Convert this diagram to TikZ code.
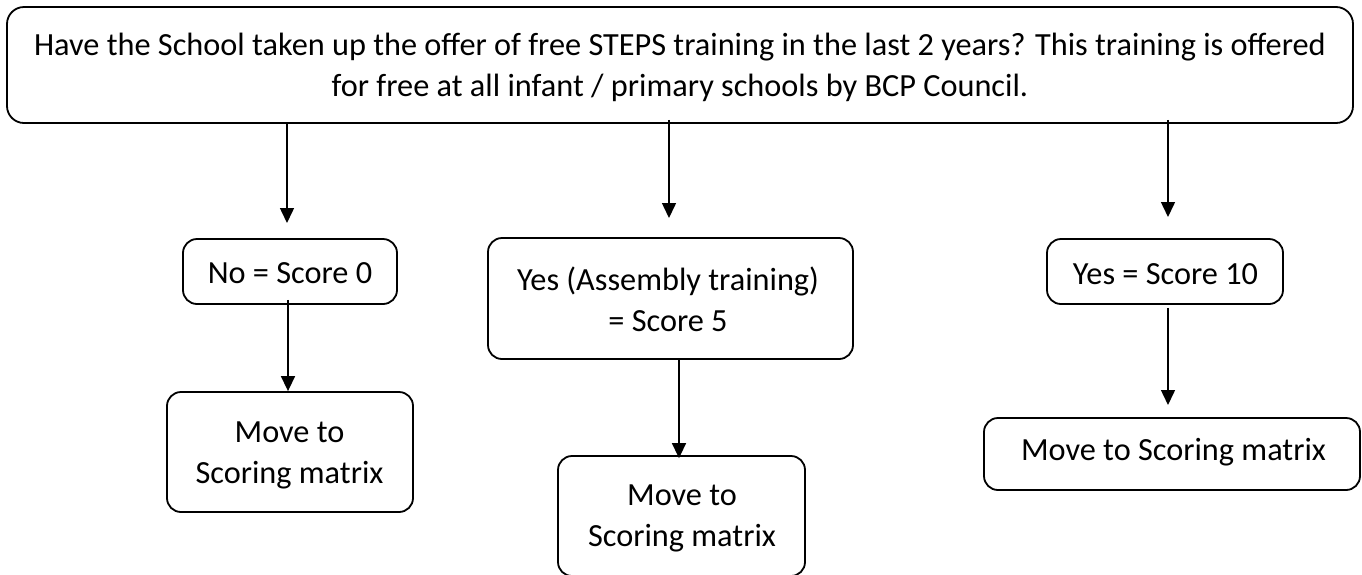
\documentclass[tikz,border=0pt]{standalone}
\usepackage{fontspec}
\setmainfont{Carlito}
\usetikzlibrary{arrows.meta}
\begin{document}
\begin{tikzpicture}[x=1pt,y=-1pt,
  box/.style={draw, line width=1.8pt, rounded corners=14pt, inner sep=0pt},
  txt/.style={align=center, inner sep=0pt, font=\fontsize{32.3}{41}\selectfont},
  arr/.style={line width=1.5pt, -{Triangle[length=15pt,width=14pt]}}]
\useasboundingbox (0,0) rectangle (1362,574);
\begin{scope}
\clip (0,0) rectangle (1362,574);
% boxes
\node[box, rounded corners=17pt, minimum width=1346pt, minimum height=116pt] (q) at (680,65) {};
\node[txt, anchor=north] (qt) at (680,26.3) {\strut Have the School taken up the offer of free STEPS training in the last 2 years? This training is offered\strut\\\strut for free at all infant / primary schools by BCP Council.\strut};
\node[box, minimum width=214pt, minimum height=65pt] (n0) at (290,271.5) {};
\node[txt, anchor=base] (n0t) at (290,283) {No = Score 0};
\node[box, minimum width=365pt, minimum height=121pt] (y5) at (670.5,298.5) {};
\node[txt, anchor=north] (y5t) at (668,261.3) {\strut Yes (Assembly training)\strut\\\strut = Score 5\strut};
\node[box, minimum width=236pt, minimum height=65pt] (y10) at (1165,271.5) {};
\node[txt, anchor=base] (y10t) at (1165.5,284) {Yes = Score 10};
\node[box, minimum width=246pt, minimum height=120pt] (m0) at (290,452) {};
\node[txt, anchor=north] (m0t) at (289.5,413.3) {\strut Move to\strut\\\strut Scoring matrix\strut};
\node[box, minimum width=247pt, minimum height=120pt] (m5) at (681.5,516) {};
\node[txt, anchor=north] (m5t) at (682,476.3) {\strut Move to\strut\\\strut Scoring matrix\strut};
\node[box, minimum width=376pt, minimum height=72pt] (m10) at (1172,454) {};
\node[txt, anchor=base] (m10t) at (1173.5,460) {Move to Scoring matrix};
% free ends
\coordinate (e1) at (287,223);
\coordinate (e2) at (669,218);
\coordinate (e3) at (1168,217);
\coordinate (e6) at (1168,405);
% connectors
\draw[arr] (q.south -| e1) -- (e1);
\draw[arr] ([yshift=4pt]q.south -| e2) -- (e2);
\draw[arr] ([yshift=4pt]q.south -| e3) -- (e3);
\draw[arr] ([yshift=5pt]n0.south -| 288,0) -- (m0.north -| 288,0);
\draw[arr] (y5.south -| 679,0) -- ([yshift=-3pt]m5.north -| 679,0);
\draw[arr] ([yshift=-3pt]y10.south -| e6) -- (e6);
\end{scope}
\end{tikzpicture}
\end{document}
